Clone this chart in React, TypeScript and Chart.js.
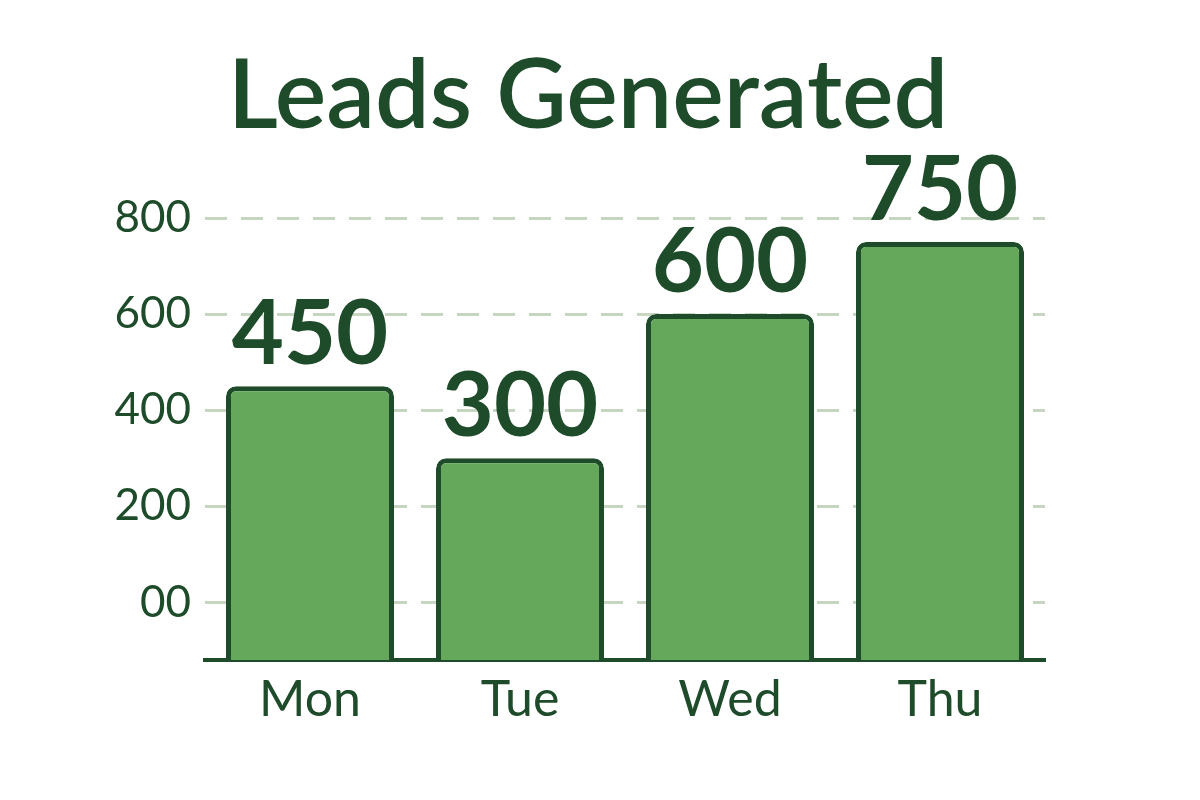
import React, { useEffect, useRef } from "react";
import { Chart, registerables } from "chart.js";

Chart.register(...registerables);

const categories = ["Mon", "Tue", "Wed", "Thu"];
const leads = [450, 300, 600, 750];
const yTicks = [0, 200, 400, 600, 800];
const yTickLabels = ["00", "200", "400", "600", "800"];
const titleText = "Leads Generated";

const DARK = "#1e4b29";
const FILL = "#66a85b";
const GRID = "#c6d6c3";
const FONT = "Lato, 'Open Sans', sans-serif";

const valueLabels = {
  id: "valueLabels",
  afterDatasetsDraw(chart: any) {
    const ctx = chart.ctx;
    const meta = chart.getDatasetMeta(0);
    ctx.save();
    ctx.fillStyle = DARK;
    ctx.font = `bold 90px ${FONT}`;
    ctx.textAlign = "center";
    ctx.textBaseline = "alphabetic";
    meta.data.forEach((bar: any, i: number) => {
      ctx.fillText(String(leads[i]), bar.x, bar.y - 22);
    });
    ctx.restore();
  },
};

const chartTitle = {
  id: "chartTitle",
  afterDraw(chart: any) {
    const ctx = chart.ctx;
    ctx.save();
    ctx.fillStyle = DARK;
    ctx.font = `600 97px ${FONT}`;
    ctx.textAlign = "center";
    ctx.textBaseline = "alphabetic";
    ctx.fillText(titleText, 588, 128);
    ctx.restore();
  },
};

export default function App() {
  const ref = useRef<HTMLCanvasElement>(null);
  useEffect(() => {
    if (!ref.current) return;
    const chart = new Chart(ref.current, {
      type: "bar",
      data: {
        labels: categories,
        datasets: [
          {
            data: leads,
            base: -120,
            backgroundColor: FILL,
            borderColor: DARK,
            borderWidth: 5,
            borderRadius: { topLeft: 10, topRight: 10, bottomLeft: 0, bottomRight: 0 },
            borderSkipped: "bottom",
            barPercentage: 0.8,
            categoryPercentage: 1,
          } as any,
        ],
      },
      options: {
        animation: false,
        responsive: false,
        maintainAspectRatio: false,
        layout: { padding: { top: 170, left: 105, right: 155, bottom: 60 } },
        plugins: {
          legend: { display: false },
          tooltip: { enabled: false },
          title: { display: false },
        },
        scales: {
          x: {
            grid: { display: false, drawTicks: false },
            border: { display: true, color: DARK, width: 4 },
            ticks: {
              color: DARK,
              font: { family: FONT, size: 50, lineHeight: 1.2 },
              padding: 10,
            },
          },
          y: {
            min: -120,
            max: 900,
            afterBuildTicks: (scale: any) => {
              scale.ticks = yTicks.map((v) => ({ value: v }));
            },
            afterFit: (scale: any) => {
              scale.width = 100;
            },
            grid: {
              color: GRID,
              lineWidth: 3,
              drawTicks: false,
            },
            border: { display: false, dash: [22, 14] },
            ticks: {
              color: DARK,
              font: { family: FONT, size: 44 },
              padding: 14,
              callback: (v: any) => {
                const idx = yTicks.indexOf(Number(v));
                return idx >= 0 ? yTickLabels[idx] : "";
              },
            },
          },
        },
      },
      plugins: [valueLabels, chartTitle],
    });
    return () => chart.destroy();
  }, []);
  return (
    <div style={{ position: "fixed", left: 0, top: 0, width: 1200, height: 800, background: "#fff" }}>
      <canvas ref={ref} width={1200} height={800} style={{ width: 1200, height: 800 }} />
    </div>
  );
}
